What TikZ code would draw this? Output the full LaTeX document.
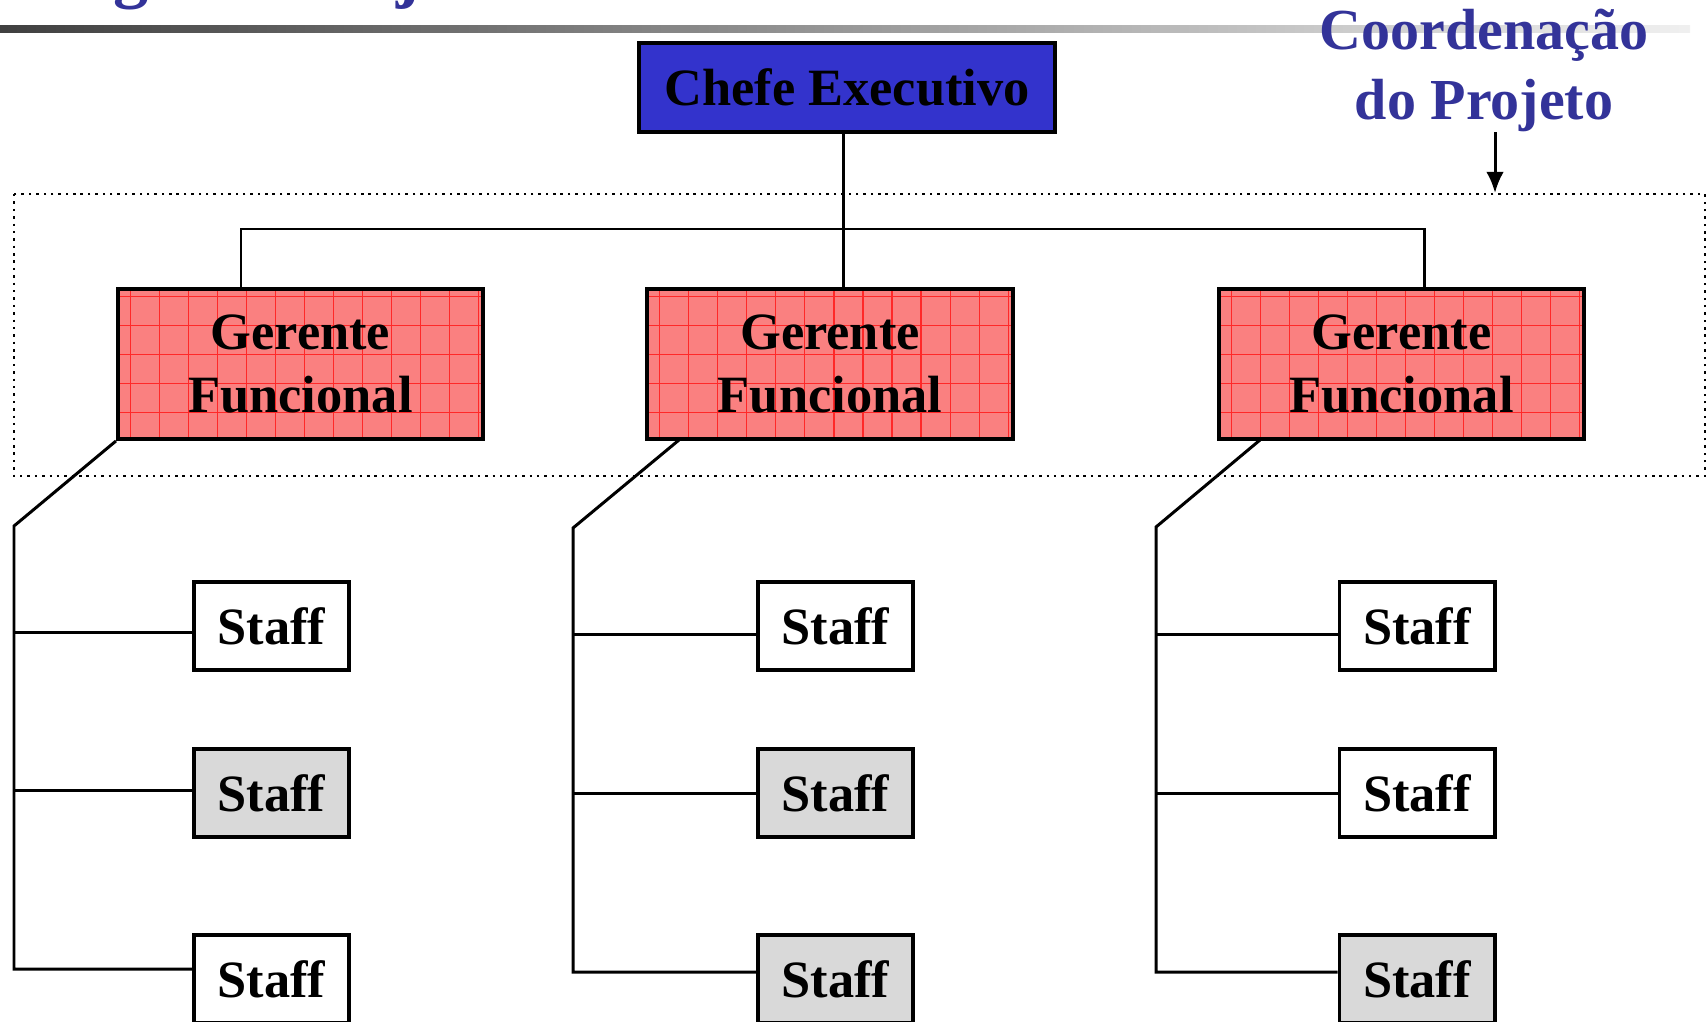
\documentclass[tikz,border=0pt]{standalone}
\usepackage{fontspec}
\setmainfont{Liberation Serif}
\usetikzlibrary{arrows.meta}
\definecolor{chefeblue}{HTML}{3333CC}
\definecolor{titleblue}{HTML}{333399}
\definecolor{gerred}{RGB}{250,128,128}
\definecolor{gridred}{RGB}{255,40,40}
\definecolor{staffgray}{HTML}{D9D9D9}
\tikzset{
  boxbase/.style={draw=black, line width=1.1pt, inner sep=0pt, text=black,
    font=\bfseries\fontsize{14.9}{17.9}\selectfont},
  chefebox/.style={boxbase, fill=chefeblue, minimum width=4.16cm, minimum height=0.89cm},
  gerbox/.style={boxbase, fill=gerred, minimum width=3.65cm, minimum height=1.5cm, align=center,
    path picture={\draw[gridred, line width=0.3pt]
      (path picture bounding box.south west) grid[step=0.29cm] (path picture bounding box.north east);}},
  staffw/.style={boxbase, fill=white, minimum width=1.55cm, minimum height=0.88cm},
  staffg/.style={staffw, fill=staffgray},
  conn/.style={line width=0.85pt},
  dotbox/.style={line width=0.7pt, dash pattern=on 0.7pt off 1.4pt},
  coordtext/.style={text=titleblue, inner sep=0pt, font=\bfseries\fontsize{16.5}{19.9}\selectfont},
  titletext/.style={text=titleblue, inner sep=0pt, font=\bfseries\fontsize{20}{24}\selectfont},
}
\begin{document}
\begin{tikzpicture}[x=0.01cm, y=-0.01cm]
\useasboundingbox (0,0) rectangle (1706,1021);
\fill[white] (0,0) rectangle (1706,1021);
% header bar and clipped title descenders
\shade[left color=black!75, right color=black!6] (0,25) rectangle (1690,32);
\node[titletext, anchor=base west] (tg) at (113,-5) {g};
\node[titletext, anchor=base west] (tj) at (396,-5) {j};
% coordination zone
\draw[dotbox] (14,194) rectangle (1705,476);
\node[coordtext, anchor=base] (coordA) at (1484,50) {Coordenação};
\node[coordtext, anchor=base] (coordB) at (1484,120) {do Projeto};
\coordinate (a1) at (1495,132);
\coordinate (a2) at (1495,193);
\draw[conn, -{Latex[length=6pt,width=5pt]}] (a1) -- (a2);
% boxes
\node[chefebox] (chefe) at (847,87.5) {Chefe Executivo};
\node[gerbox] (g1) at (300.5,364) {Gerente\\Funcional};
\node[gerbox] (g2) at (830,364) {Gerente\\Funcional};
\node[gerbox] (g3) at (1401.5,364) {Gerente\\Funcional};
\node[staffw] (s11) at (271.5,626) {Staff};
\node[staffg] (s12) at (271.5,793) {Staff};
\node[staffw] (s13) at (271.5,979) {Staff};
\node[staffw] (s21) at (835.5,626) {Staff};
\node[staffg] (s22) at (835.5,793) {Staff};
\node[staffg] (s23) at (835.5,979) {Staff};
\node[staffw] (s31) at (1417,626) {Staff};
\node[staffw] (s32) at (1417,793) {Staff};
\node[staffg] (s33) at (1417,979) {Staff};
% top connectors
\coordinate (h1) at (241,229);
\coordinate (h2) at (843,229);
\coordinate (h3) at (1424,229);
\draw[conn] (chefe.south -| h2) -- (g2.north -| h2);
\draw[conn] (g1.north -| h1) -- (h1) -- (h3) -- (g3.north -| h3);
% column 1
\coordinate (k1) at (14,526);
\coordinate (b1) at (14,969);
\coordinate (r11) at (14,632);
\coordinate (r12) at (14,790);
\draw[conn] (g1.south west) -- (k1) -- (b1) -- (s13.west |- b1);
\draw[conn] (r11) -- (s11.west |- r11);
\draw[conn] (r12) -- (s12.west |- r12);
% column 2
\coordinate (d2) at (679,440);
\coordinate (k2) at (573,528);
\coordinate (b2) at (573,972);
\coordinate (r21) at (573,634);
\coordinate (r22) at (573,793);
\draw[conn] (d2) -- (k2) -- (b2) -- (s23.west |- b2);
\draw[conn] (r21) -- (s21.west |- r21);
\draw[conn] (r22) -- (s22.west |- r22);
% column 3
\coordinate (d3) at (1260,440);
\coordinate (k3) at (1156,527);
\coordinate (b3) at (1156,972);
\coordinate (r31) at (1156,634);
\coordinate (r32) at (1156,793);
\draw[conn] (d3) -- (k3) -- (b3) -- (s33.west |- b3);
\draw[conn] (r31) -- (s31.west |- r31);
\draw[conn] (r32) -- (s32.west |- r32);
\end{tikzpicture}
\end{document}
